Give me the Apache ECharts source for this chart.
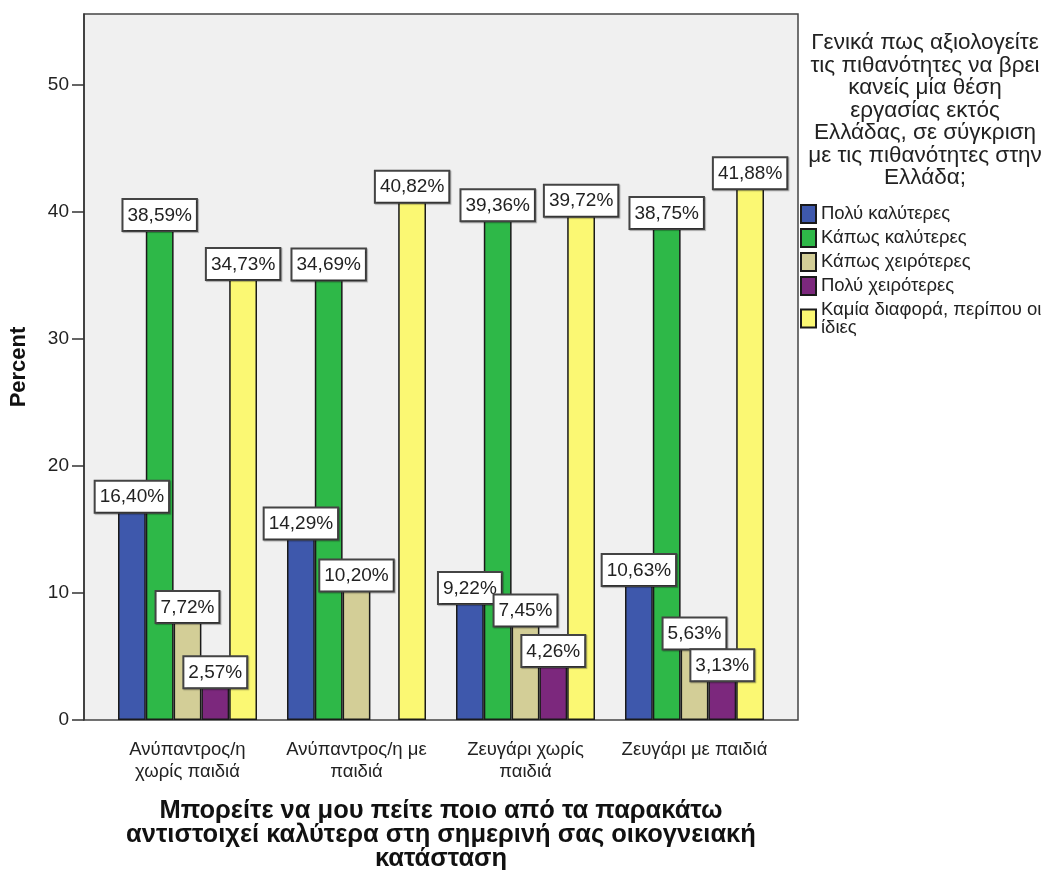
<!DOCTYPE html>
<html>
<head>
<meta charset="utf-8">
<script src="https://cdn.jsdelivr.net/npm/echarts@6/dist/echarts.min.js"></script>
<style>
  html, body { margin: 0; padding: 0; background: #fff; }
  #main { width: 1047px; height: 870px; }
</style>
</head>
<body>
<div id="main"></div>
<script>
const categories = [
  'Ανύπαντρος/η\nχωρίς παιδιά',
  'Ανύπαντρος/η με\nπαιδιά',
  'Ζευγάρι χωρίς\nπαιδιά',
  'Ζευγάρι με παιδιά'
];
const seriesNames = [
  'Πολύ καλύτερες',
  'Κάπως καλύτερες',
  'Κάπως χειρότερες',
  'Πολύ χειρότερες',
  'Καμία διαφορά, περίπου οι ίδιες'
];
const muchBetter = [16.40, 14.29, 9.22, 10.63];
const somewhatBetter = [38.59, 34.69, 39.36, 38.75];
const somewhatWorse = [7.72, 10.20, 7.45, 5.63];
const muchWorse = [2.57, null, 4.26, 3.13];
const noDifference = [34.73, 40.82, 39.72, 41.88];
const yTicks = [0, 10, 20, 30, 40, 50];

const values = [muchBetter, somewhatBetter, somewhatWorse, muchWorse, noDifference];
const colors = ['#3e58ac', '#2eb848', '#d3ce97', '#7c287d', '#fbf873'];
const font = '"Liberation Sans", Arial, sans-serif';

let myChart = echarts.init(document.getElementById('main'));
myChart.setOption({
  backgroundColor: '#fff',
  animation: false,
  title: {
    text: 'Γενικά πως αξιολογείτε\nτις πιθανότητες να βρει\nκανείς μία θέση\nεργασίας εκτός\nΕλλάδας, σε σύγκριση\nμε τις πιθανότητες στην\nΕλλάδα;',
    left: 920,
    top: 27,
    textAlign: 'center',
    textStyle: { fontFamily: font, fontSize: 22.5, fontWeight: 'normal', color: '#222', lineHeight: 22.5 }
  },
  legend: {
    orient: 'vertical',
    left: 795,
    top: 199,
    itemWidth: 15,
    itemHeight: 18,
    itemGap: 4,
    icon: 'rect',
    data: seriesNames,
    formatter: function (name) {
      return name === seriesNames[4] ? 'Καμία διαφορά, περίπου οι\nίδιες' : name;
    },
    textStyle: { fontFamily: font, fontSize: 18.5, color: '#222', lineHeight: 18 }
  },
  grid: [
    { left: 84, right: 249, top: 14, bottom: 150, outerBoundsMode: 'none', containLabel: false, show: true, backgroundColor: '#f0f0f0', borderColor: '#444', borderWidth: 1.5 },
    { left: 103, right: 268, top: 14, bottom: 150, outerBoundsMode: 'none', containLabel: false }
  ],
  xAxis: [
    { gridIndex: 0, type: 'category', data: categories, show: false },
    {
      gridIndex: 1,
      type: 'category',
      data: categories,
      axisLine: { show: false },
      axisTick: { alignWithLabel: true, length: 10, lineStyle: { color: '#333', width: 1.5 } },
      axisLabel: { interval: 0, fontFamily: font, fontSize: 18.5, color: '#222', lineHeight: 22, margin: 19 },
      name: 'Μπορείτε να μου πείτε ποιο από τα παρακάτω\nαντιστοιχεί καλύτερα στη σημερινή σας οικογνειακή\nκατάσταση',
      nameLocation: 'middle',
      nameGap: 79,
      nameTextStyle: { fontFamily: font, fontSize: 25.5, fontWeight: 'bold', color: '#111', lineHeight: 24 }
    }
  ],
  yAxis: [
    {
      gridIndex: 0,
      type: 'value',
      min: 0,
      max: 55.6,
      interval: 10,
      splitLine: { show: false },
      axisLine: { show: true, lineStyle: { color: '#333', width: 1.5 } },
      axisTick: { show: true, length: 12, customValues: yTicks, lineStyle: { color: '#333', width: 1.5 } },
      axisLabel: { fontFamily: font, fontSize: 19, color: '#222', margin: 15, customValues: yTicks },
      name: 'Percent',
      nameLocation: 'middle',
      nameGap: 54,
      nameTextStyle: { fontFamily: font, fontSize: 22, fontWeight: 'bold', color: '#111' }
    },
    { gridIndex: 1, type: 'value', min: 0, max: 55.6, show: false }
  ],
  series: seriesNames.map(function (name, i) {
    return {
      name: name,
      type: 'bar',
      xAxisIndex: 1,
      yAxisIndex: 1,
      data: values[i],
      barGap: '0%',
      barCategoryGap: '17.75%',
      itemStyle: { color: colors[i], borderColor: '#1a1a1a', borderWidth: 1.5 },
      label: {
        show: true,
        position: 'top',
        distance: 0,
        formatter: function (p) { return p.value.toFixed(2).replace('.', ',') + '%'; },
        fontFamily: font,
        fontSize: 19,
        color: '#222',
        backgroundColor: '#fff',
        borderColor: '#444',
        borderWidth: 2,
        padding: [6, 4, 5, 4],
        shadowColor: 'rgba(0,0,0,0.3)',
        shadowOffsetX: 1,
        shadowOffsetY: 1,
        shadowBlur: 1
      }
    };
  })
});
</script>
</body>
</html>
